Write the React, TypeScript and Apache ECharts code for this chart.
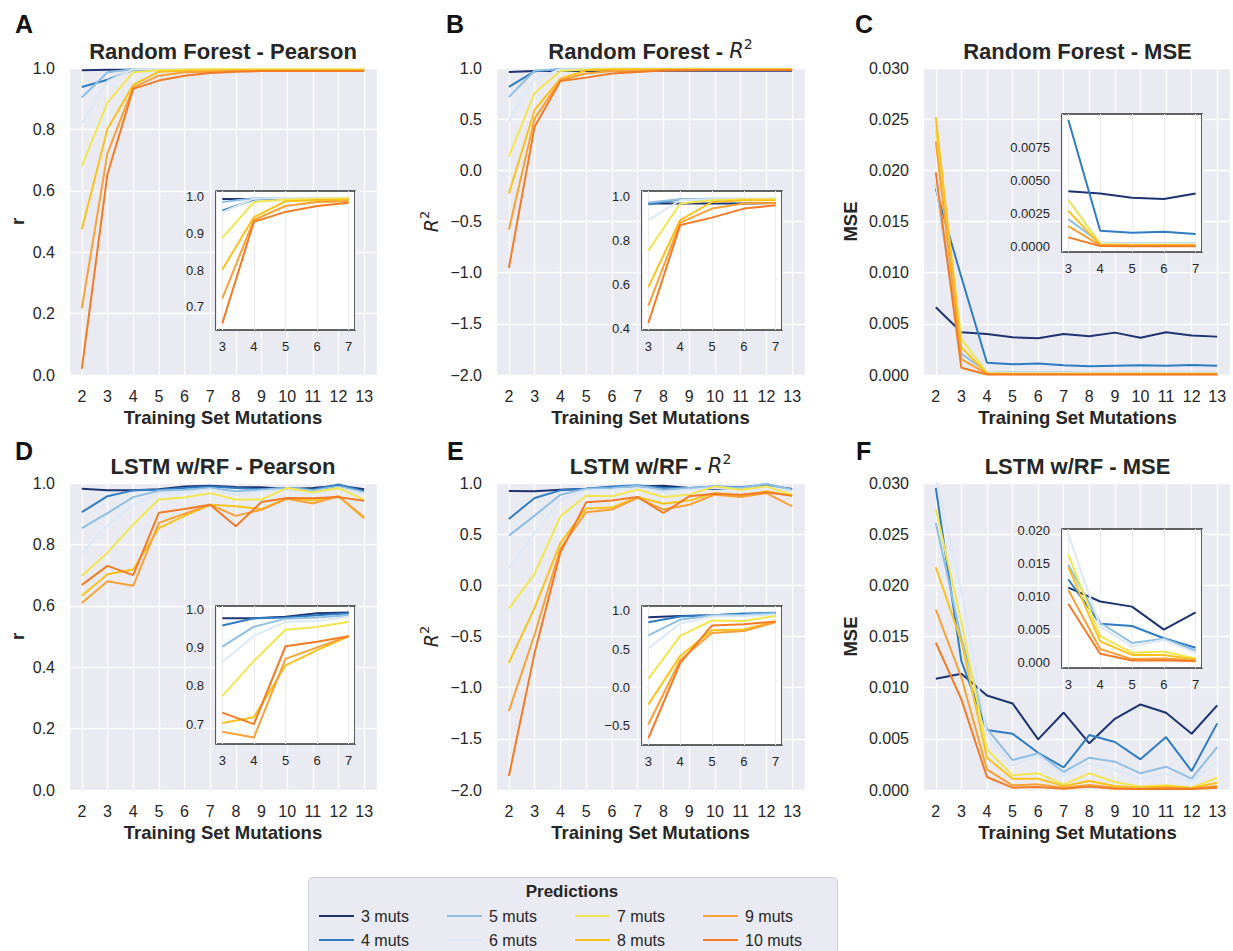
import React, { useEffect, useRef } from "react";
import * as echarts from "echarts";

// ---------- data ----------
const xs = [2, 3, 4, 5, 6, 7, 8, 9, 10, 11, 12, 13];
const insetXs = [3, 4, 5, 6, 7];
const names = ["3 muts", "4 muts", "5 muts", "6 muts", "7 muts", "8 muts", "9 muts", "10 muts"];
const colors = ["#1d3470", "#2f7cc0", "#8fbfe3", "#dbe8f6", "#f2e650", "#fbc21c", "#f8a136", "#f27b25"];

// Random Forest - Pearson r (rows: 3..10 muts)
const rfPearson = [
  [0.993, 0.994, 0.994, 0.994, 0.994, 0.994, 0.994, 0.994, 0.994, 0.994, 0.994, 0.994],
  [0.938, 0.962, 0.993, 0.996, 0.996, 0.996, 0.996, 0.996, 0.996, 0.996, 0.996, 0.996],
  [0.904, 0.986, 0.996, 0.997, 0.997, 0.997, 0.997, 0.997, 0.997, 0.997, 0.997, 0.997],
  [0.82, 0.958, 0.995, 0.997, 0.997, 0.997, 0.997, 0.997, 0.997, 0.997, 0.997, 0.997],
  [0.68, 0.888, 0.986, 0.993, 0.995, 0.996, 0.996, 0.996, 0.996, 0.996, 0.996, 0.996],
  [0.475, 0.802, 0.945, 0.988, 0.991, 0.992, 0.993, 0.993, 0.993, 0.993, 0.993, 0.993],
  [0.217, 0.723, 0.937, 0.975, 0.986, 0.988, 0.99, 0.99, 0.99, 0.99, 0.99, 0.99],
  [0.02, 0.655, 0.932, 0.959, 0.975, 0.984, 0.988, 0.99, 0.99, 0.99, 0.99, 0.99],
];

// Random Forest - R^2
const rfR2 = [
  [0.96, 0.97, 0.97, 0.97, 0.97, 0.972, 0.972, 0.972, 0.972, 0.972, 0.972, 0.972],
  [0.815, 0.967, 0.988, 0.99, 0.99, 0.99, 0.99, 0.99, 0.99, 0.99, 0.99, 0.99],
  [0.715, 0.975, 0.99, 0.992, 0.992, 0.992, 0.992, 0.992, 0.992, 0.992, 0.992, 0.992],
  [0.48, 0.895, 0.985, 0.99, 0.991, 0.991, 0.991, 0.991, 0.991, 0.991, 0.991, 0.991],
  [0.134, 0.756, 0.97, 0.985, 0.99, 0.99, 0.99, 0.99, 0.99, 0.99, 0.99, 0.99],
  [-0.226, 0.59, 0.895, 0.977, 0.985, 0.985, 0.985, 0.985, 0.985, 0.985, 0.985, 0.985],
  [-0.58, 0.505, 0.883, 0.947, 0.97, 0.973, 0.978, 0.98, 0.98, 0.98, 0.98, 0.98],
  [-0.953, 0.427, 0.872, 0.906, 0.947, 0.962, 0.975, 0.978, 0.98, 0.98, 0.98, 0.98],
];

// Random Forest - MSE
const rfMSE = [
  [0.00662, 0.00417, 0.00401, 0.00368, 0.00359, 0.00401, 0.00378, 0.00414, 0.00365, 0.00417, 0.00385, 0.00375],
  [0.0182, 0.00955, 0.0012, 0.00105, 0.00112, 0.00095, 0.00085, 0.0009, 0.00095, 0.0009, 0.00098, 0.0009],
  [0.0187, 0.00208, 0.0003, 0.00025, 0.00025, 0.00025, 0.00022, 0.00022, 0.00022, 0.00022, 0.00022, 0.00022],
  [0.0188, 0.0036, 0.0003, 0.0002, 0.0002, 0.0002, 0.0002, 0.0002, 0.0002, 0.0002, 0.0002, 0.0002],
  [0.024, 0.0035, 0.0002, 0.00015, 0.00015, 0.00015, 0.00015, 0.00015, 0.00015, 0.00015, 0.00015, 0.00015],
  [0.0252, 0.0027, 0.00015, 0.0001, 0.0001, 0.0001, 0.0001, 0.0001, 0.0001, 0.0001, 0.0001, 0.0001],
  [0.0228, 0.00155, 0.0001, 0.00008, 0.00008, 0.00008, 0.00008, 0.00008, 0.00008, 0.00008, 0.00008, 0.00008],
  [0.0198, 0.0007, 0.00005, 0.00004, 0.00004, 0.00004, 0.00004, 0.00004, 0.00004, 0.00004, 0.00004, 0.00004],
];

// LSTM w/RF - Pearson r
const lstmPearson = [
  [0.981, 0.976, 0.976, 0.98, 0.989, 0.991, 0.987, 0.986, 0.98, 0.984, 0.991, 0.98],
  [0.905, 0.957, 0.976, 0.978, 0.984, 0.989, 0.984, 0.98, 0.984, 0.978, 0.995, 0.973],
  [0.853, 0.902, 0.954, 0.975, 0.978, 0.984, 0.973, 0.978, 0.984, 0.976, 0.989, 0.97],
  [0.772, 0.862, 0.93, 0.967, 0.969, 0.98, 0.962, 0.973, 0.978, 0.965, 0.984, 0.965],
  [0.698, 0.773, 0.865, 0.946, 0.953, 0.967, 0.946, 0.946, 0.984, 0.97, 0.984, 0.946],
  [0.633, 0.703, 0.718, 0.853, 0.893, 0.929, 0.924, 0.915, 0.951, 0.943, 0.957, 0.884],
  [0.609, 0.68, 0.665, 0.87, 0.9, 0.929, 0.893, 0.913, 0.949, 0.933, 0.957, 0.888],
  [0.668, 0.73, 0.7, 0.903, 0.915, 0.929, 0.859, 0.938, 0.951, 0.95, 0.954, 0.942],
];

// LSTM w/RF - R^2
const lstmR2 = [
  [0.922, 0.919, 0.935, 0.945, 0.958, 0.967, 0.974, 0.951, 0.941, 0.951, 0.974, 0.941],
  [0.649, 0.854, 0.928, 0.945, 0.967, 0.977, 0.951, 0.951, 0.967, 0.958, 0.984, 0.935],
  [0.486, 0.681, 0.886, 0.945, 0.951, 0.974, 0.935, 0.951, 0.967, 0.951, 0.993, 0.935],
  [0.17, 0.512, 0.837, 0.928, 0.935, 0.951, 0.909, 0.935, 0.951, 0.935, 0.967, 0.919],
  [-0.227, 0.115, 0.675, 0.876, 0.87, 0.935, 0.863, 0.886, 0.967, 0.935, 0.967, 0.886],
  [-0.757, -0.22, 0.414, 0.75, 0.76, 0.863, 0.798, 0.828, 0.902, 0.876, 0.919, 0.876],
  [-1.229, -0.48, 0.36, 0.714, 0.74, 0.854, 0.74, 0.788, 0.886, 0.863, 0.902, 0.772],
  [-1.864, -0.66, 0.32, 0.811, 0.828, 0.863, 0.707, 0.87, 0.896, 0.886, 0.909, 0.876],
];

// LSTM w/RF - MSE
const lstmMSE = [
  [0.01087, 0.01136, 0.00924, 0.00846, 0.00495, 0.00757, 0.00456, 0.00696, 0.00836, 0.00755, 0.0055, 0.00827],
  [0.02952, 0.0126, 0.00586, 0.0055, 0.00364, 0.0022, 0.00537, 0.00469, 0.003, 0.00517, 0.00185, 0.00651],
  [0.0261, 0.0148, 0.006, 0.00293, 0.00358, 0.00176, 0.00316, 0.00277, 0.00163, 0.00228, 0.00111, 0.0042],
  [0.0305, 0.0195, 0.0054, 0.0024, 0.0034, 0.0014, 0.0026, 0.002, 0.0011, 0.0016, 0.0008, 0.0028],
  [0.02747, 0.0164, 0.00397, 0.00143, 0.00163, 0.00055, 0.00163, 0.00078, 0.00033, 0.00046, 0.00023, 0.0012],
  [0.02177, 0.0145, 0.00316, 0.0011, 0.0011, 0.0004, 0.00088, 0.0004, 0.00023, 0.00033, 0.0002, 0.0007],
  [0.01764, 0.011, 0.002, 0.00046, 0.00055, 0.00023, 0.0005, 0.00023, 0.00013, 0.0002, 0.00013, 0.0004],
  [0.01439, 0.00885, 0.00127, 0.00023, 0.0003, 0.00013, 0.00033, 0.00013, 0.0001, 0.00013, 0.0001, 0.00023],
];

const panelData = [rfPearson, rfR2, rfMSE, lstmPearson, lstmR2, lstmMSE];
const panelLetters = ["A", "B", "C", "D", "E", "F"];

// ---------- layout ----------
const FONT = "'Liberation Sans', Arial, Helvetica, sans-serif";
const MATH = "'DejaVu Sans', sans-serif";
const TXT = "#262626";

const mainBoxes = [
  { left: 69, top: 68, width: 308, height: 307 },
  { left: 496, top: 68, width: 309, height: 307 },
  { left: 923, top: 68, width: 309, height: 307 },
  { left: 69, top: 483, width: 308, height: 307 },
  { left: 496, top: 483, width: 309, height: 307 },
  { left: 923, top: 483, width: 309, height: 307 },
];
const insetBoxes = [
  { left: 216, top: 191, width: 139, height: 139 },
  { left: 642, top: 191, width: 140, height: 139 },
  { left: 1062, top: 114, width: 140, height: 138 },
  { left: 216, top: 606, width: 139, height: 138 },
  { left: 642, top: 606, width: 140, height: 139 },
  { left: 1062, top: 529, width: 140, height: 139 },
];
const mainY = [
  { min: 0, max: 1, step: 0.2, dec: 1 },
  { min: -2, max: 1, step: 0.5, dec: 1 },
  { min: 0, max: 0.03, step: 0.005, dec: 3 },
  { min: 0, max: 1, step: 0.2, dec: 1 },
  { min: -2, max: 1, step: 0.5, dec: 1 },
  { min: 0, max: 0.03, step: 0.005, dec: 3 },
];
const insetY = [
  { min: 0.637, max: 1.016, step: 0.1, dec: 1 },
  { min: 0.395, max: 1.027, step: 0.2, dec: 1 },
  { min: -0.0004, max: 0.01, step: 0.0025, dec: 4 },
  { min: 0.648, max: 1.008, step: 0.1, dec: 1 },
  { min: -0.748, max: 1.065, step: 0.5, dec: 1 },
  { min: -0.0009, max: 0.0203, step: 0.005, dec: 3 },
];

function fmt(step: number, dec: number) {
  return (v: number) => {
    const r = v / step;
    if (Math.abs(r - Math.round(r)) > 1e-6) return "";
    let val = Math.round(r) * step;
    if (Math.abs(val) < step * 1e-6) val = 0;
    return (val < 0 ? "\u2212" : "") + Math.abs(val).toFixed(dec);
  };
}
const intFmt = (v: number) => (Math.abs(v - Math.round(v)) < 1e-9 ? String(Math.round(v)) : "");

function buildOption() {
  const grid: any[] = [];
  const xAxis: any[] = [];
  const yAxis: any[] = [];
  const series: any[] = [];
  const graphic: any[] = [];

  mainBoxes.forEach((b, p) => {
    grid.push({ ...b, show: true, backgroundColor: "#eaeaf2", borderWidth: 0, z: 0 });
    xAxis.push({
      gridIndex: p, type: "value", min: 1.5, max: 13.5, minInterval: 1, maxInterval: 1,
      axisLine: { show: false }, axisTick: { show: false },
      axisLabel: { formatter: intFmt, fontSize: 16, color: TXT, fontFamily: FONT, margin: 13 },
      splitLine: { show: true, lineStyle: { color: "#ffffff", width: 1.3 } },
    });
    const y = mainY[p];
    yAxis.push({
      gridIndex: p, type: "value", min: y.min, max: y.max, interval: y.step,
      axisLine: { show: false }, axisTick: { show: false },
      axisLabel: { formatter: fmt(y.step, y.dec), fontSize: 16, color: TXT, fontFamily: FONT, margin: 14 },
      splitLine: { show: true, lineStyle: { color: "#ffffff", width: 1.3 } },
    });
  });

  insetBoxes.forEach((b, p) => {
    const gi = 6 + p;
    grid.push({ ...b, show: true, backgroundColor: "#ffffff", borderColor: "#333333", borderWidth: 1.6, z: 5 });
    xAxis.push({
      gridIndex: gi, type: "value", min: 2.8, max: 7.2, minInterval: 1, maxInterval: 1, z: 6,
      axisLine: { show: false }, axisTick: { show: false },
      axisLabel: { formatter: intFmt, fontSize: 13, color: TXT, fontFamily: FONT, margin: 10 },
      splitLine: { show: true, lineStyle: { color: "#ececf0", width: 1 } },
    });
    const y = insetY[p];
    yAxis.push({
      gridIndex: gi, type: "value", min: y.min, max: y.max, minInterval: y.step, maxInterval: y.step, z: 6,
      axisLine: { show: false }, axisTick: { show: false },
      axisLabel: { formatter: fmt(y.step, y.dec), fontSize: 13, color: TXT, fontFamily: FONT, margin: 12, showMinLabel: false, showMaxLabel: false },
      splitLine: { show: false },
    });
  });

  panelData.forEach((rows, p) => {
    rows.forEach((vals, k) => {
      series.push({
        type: "line", name: names[k], xAxisIndex: p, yAxisIndex: p,
        data: xs.map((x, i) => [x, vals[i]]),
        symbol: "none", showSymbol: false, clip: true, silent: true, z: 2,
        color: colors[k], itemStyle: { color: colors[k] },
        lineStyle: { width: 2, color: colors[k] },
        emphasis: { disabled: true },
      });
      series.push({
        type: "line", name: names[k], xAxisIndex: 6 + p, yAxisIndex: 6 + p,
        data: insetXs.map((x) => [x, vals[xs.indexOf(x)]]),
        symbol: "none", showSymbol: false, clip: true, silent: true, z: 7,
        color: colors[k], itemStyle: { color: colors[k] },
        lineStyle: { width: 2, color: colors[k] },
        emphasis: { disabled: true },
      });
    });
  });

  // titles
  const titleRich = {
    i: { fontFamily: MATH, fontStyle: "italic", fontWeight: "normal", fontSize: 21, fill: TXT, lineHeight: 28 },
    s: { fontFamily: MATH, fontWeight: "normal", fontSize: 14, fill: TXT, verticalAlign: "top", lineHeight: 28 },
  };
  const titles = [
    "Random Forest - Pearson",
    "Random Forest - {i|R}{s|2}",
    "Random Forest - MSE",
    "LSTM w/RF - Pearson",
    "LSTM w/RF - {i|R}{s|2}",
    "LSTM w/RF - MSE",
  ];
  const titleY = [51, 51, 51, 466, 466, 466];
  const letterPos = [
    [15, 24], [446, 24], [855, 24], [15, 451], [447, 451], [856, 451],
  ];
  const yLabelX = [17, 431, 850, 17, 431, 850];

  mainBoxes.forEach((b, p) => {
    const cx = b.left + b.width / 2;
    const cy = b.top + b.height / 2;
    graphic.push({
      type: "text", x: cx, y: titleY[p], z: 10,
      style: {
        text: titles[p], fontFamily: FONT, fontWeight: "bold", fontSize: 22, fill: TXT,
        align: "center", verticalAlign: "middle", lineHeight: 28, rich: titleRich,
      },
    });
    graphic.push({
      type: "text", x: letterPos[p][0], y: letterPos[p][1], z: 10,
      style: { text: panelLetters[p], fontFamily: FONT, fontWeight: "bold", fontSize: 25, fill: "#111111", align: "left", verticalAlign: "middle" },
    });
    graphic.push({
      type: "text", x: cx, y: b.top + b.height + 42, z: 10,
      style: { text: "Training Set Mutations", fontFamily: FONT, fontWeight: "bold", fontSize: 18.5, fill: TXT, align: "center", verticalAlign: "middle" },
    });
    const isR2 = p % 3 === 1;
    const yText = p % 3 === 0 ? "r" : isR2 ? "{i|R}{s|2}" : "MSE";
    graphic.push({
      type: "text", x: yLabelX[p], y: cy, rotation: Math.PI / 2, z: 10,
      style: {
        text: yText, fontFamily: FONT, fontWeight: "bold", fontSize: 18.5, fill: TXT,
        align: "center", verticalAlign: "middle", lineHeight: 26,
        rich: {
          i: { fontFamily: MATH, fontStyle: "italic", fontWeight: "normal", fontSize: 19, fill: TXT, lineHeight: 26 },
          s: { fontFamily: MATH, fontWeight: "normal", fontSize: 13, fill: TXT, verticalAlign: "top", lineHeight: 26 },
        },
      },
    });
  });

  // legend frame
  graphic.push({
    type: "rect", z: 1,
    shape: { x: 308.5, y: 877.5, width: 529, height: 90, r: 4 },
    style: { fill: "#eaeaf2", stroke: "#cfcfd6", lineWidth: 1 },
  });
  graphic.push({
    type: "text", x: 572, y: 891, z: 10,
    style: { text: "Predictions", fontFamily: FONT, fontWeight: "bold", fontSize: 17, fill: TXT, align: "center", verticalAlign: "middle" },
  });

  // one legend per entry: columns of two, filled column by column
  const legendLeft = [314, 442, 570, 698];
  const legendTop = [902, 926];
  const legend = names.map((n, k) => ({
    data: [n],
    orient: "horizontal",
    left: legendLeft[Math.floor(k / 2)],
    top: legendTop[k % 2],
    z: 5,
    icon: "rect", itemWidth: 35, itemHeight: 2,
    selectedMode: false,
    textStyle: { fontSize: 16, color: TXT, fontFamily: FONT, lineHeight: 18, padding: [0, 0, 0, 2] },
  }));

  return { animation: false, backgroundColor: "#ffffff", grid, xAxis, yAxis, series, graphic, legend };
}

export default function App() {
  const ref = useRef<HTMLDivElement>(null);
  useEffect(() => {
    document.body.style.margin = "0";
    if (!ref.current) return;
    const chart = echarts.init(ref.current, null, { renderer: "svg" });
    chart.setOption(buildOption() as any);
    return () => chart.dispose();
  }, []);
  return <div ref={ref} style={{ position: "absolute", left: 0, top: 0, width: 1233, height: 951 }} />;
}
